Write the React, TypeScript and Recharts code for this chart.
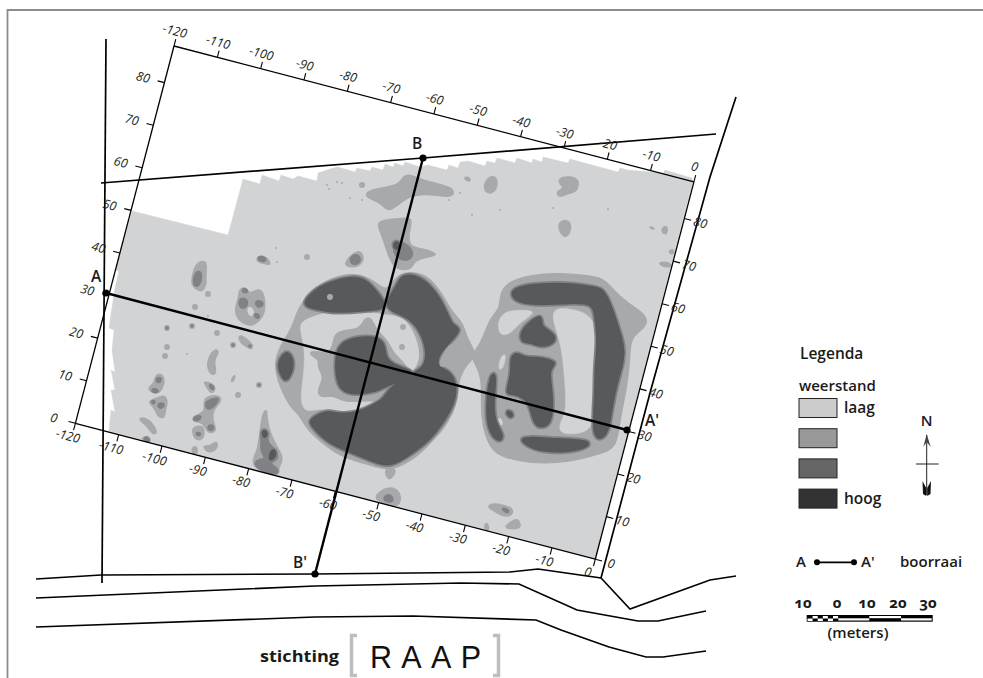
import { ScatterChart, Scatter, XAxis, YAxis } from 'recharts';

type Poly = number[][];

// survey grid (metres)
const GRID_X_TICKS = [-120, -110, -100, -90, -80, -70, -60, -50, -40, -30, -20, -10, 0];
const GRID_Y_TICKS = [0, 10, 20, 30, 40, 50, 60, 70, 80];
const GRID_Y_MAX = 88.6;

// map features, traced in map units
const SURVEY_AREA: Poly = [
  [132, 211], [228, 235], [243, 179], [260, 184], [262, 175], [279, 181], [281, 175], [293, 179], [298, 176], [317, 181],
  [318, 173], [330, 169], [338, 167], [355, 172], [357, 168], [370, 171], [372, 167], [383, 170], [385, 164], [393, 167],
  [395, 163], [403, 166], [405, 162], [420, 167], [428, 165], [447, 170], [449, 165], [458, 168], [460, 162], [468, 161],
  [485, 166], [487, 161], [495, 163], [497, 158], [515, 163], [517, 158], [532, 163], [533, 159], [542, 162], [543, 157],
  [568, 163], [570, 159], [618, 172], [620, 168], [628, 170], [663, 173], [665, 170], [692, 178], [693, 181], [595, 559],
  [109, 431], [111, 410], [115, 412], [111, 390], [115, 390], [111, 370], [115, 372], [112, 350], [114, 330], [109, 328],
  [112, 307], [115, 288], [119, 271], [115, 270],
];

const MID_PATCHES: Poly[] = [
  // ring
  [[330, 278], [353, 273], [370, 278], [382, 288], [388, 290], [398, 273], [417, 272], [430, 278], [443, 295], [452, 313], [463, 322], [467, 340], [478, 355], [467, 363], [458, 380], [458, 397], [453, 413], [443, 430], [430, 443], [417, 457], [393, 470], [380, 468], [363, 463], [343, 457], [327, 447], [307, 430], [300, 415], [290, 407], [280, 387], [273, 363], [282, 343], [293, 327], [297, 310], [310, 292]],
  [[383, 468], [398, 468], [392, 478], [388, 480]],
  // rectangle
  [[508, 282], [530, 275], [557, 273], [580, 275], [603, 277], [613, 290], [627, 303], [647, 315], [647, 327], [630, 337], [630, 357], [627, 387], [620, 417], [617, 447], [603, 453], [567, 463], [527, 463], [503, 457], [490, 450], [480, 417], [483, 380], [475, 363], [470, 355], [480, 347], [490, 317], [500, 310], [500, 293]],
  // west side
  [[197, 262], [208, 260], [205, 277], [207, 283], [202, 293], [195, 288], [191, 285], [193, 272]],
  [[240, 288], [247, 288], [249, 295], [260, 287], [265, 297], [265, 313], [260, 320], [252, 327], [240, 322], [234, 312], [238, 300], [239, 293]],
  [[258, 255], [267, 257], [272, 266], [263, 263], [256, 262]],
  [[238, 335], [245, 337], [253, 345], [252, 350], [245, 346], [240, 342]],
  [[235, 374], [235, 378], [232, 383], [231, 380]],
  [[155, 375], [162, 373], [165, 382], [162, 388], [160, 393], [152, 393], [147, 388], [155, 383]],
  [[150, 400], [160, 397], [165, 395], [168, 403], [165, 410], [165, 418], [158, 418], [155, 408], [149, 403]],
  [[138, 418], [148, 418], [155, 427], [157, 433], [153, 435], [148, 427], [142, 422]],
  [[142, 438], [148, 435], [152, 442], [142, 440]],
  [[215, 348], [220, 352], [213, 360], [217, 373], [212, 376], [207, 368], [208, 358]],
  [[203, 382], [208, 382], [215, 385], [215, 392], [210, 393], [207, 387]],
  [[203, 398], [213, 395], [222, 397], [220, 403], [213, 410], [212, 420], [217, 430], [212, 433], [207, 432], [203, 422], [193, 422], [192, 417], [202, 413], [205, 410]],
  [[192, 427], [202, 425], [205, 432], [202, 440], [196, 440], [193, 435]],
  [[202, 445], [210, 447], [217, 440], [218, 447], [213, 452], [207, 452]],
  [[192, 447], [197, 446], [198, 454], [192, 454]],
  [[263, 412], [267, 409], [267, 420], [270, 433], [277, 447], [282, 455], [282, 462], [278, 468], [280, 475], [267, 473], [253, 467], [253, 458], [258, 450], [260, 430]],
  // north side
  [[365, 192], [380, 188], [400, 185], [403, 175], [412, 175], [422, 180], [435, 183], [455, 188], [453, 198], [437, 195], [423, 194], [410, 196], [400, 203], [388, 213], [382, 203], [367, 198]],
  [[487, 178], [495, 175], [498, 183], [495, 192], [488, 194], [483, 188]],
  [[558, 178], [570, 176], [580, 180], [577, 192], [568, 193], [560, 198], [555, 192], [565, 188], [560, 185]],
  [[557, 222], [568, 219], [572, 227], [567, 238], [561, 235]],
  [[462, 177], [471, 177], [470, 183]],
  [[662, 227], [668, 226], [667, 235], [662, 233]],
  [[648, 226], [655, 228], [653, 230]],
  [[667, 252], [674, 248], [674, 255]],
  [[657, 262], [670, 262], [672, 267], [663, 267]],
  [[378, 220], [405, 218], [413, 218], [408, 235], [410, 247], [420, 248], [443, 255], [420, 258], [413, 263], [412, 270], [392, 270], [385, 243], [378, 227]],
  [[343, 263], [360, 247], [365, 260], [358, 267], [348, 267]],
  // south side
  [[373, 497], [387, 486], [400, 490], [401, 503], [395, 507], [380, 502]],
  [[487, 507], [492, 503], [503, 505], [513, 508], [513, 515], [503, 517], [493, 510]],
  [[503, 528], [512, 521], [518, 518], [522, 528], [513, 529]],
  [[483, 529], [487, 520], [490, 532]],
];

const LOW_PATCHES: Poly[] = [
  [[298, 322], [313, 317], [325, 312], [347, 313], [365, 310], [380, 315], [402, 315], [413, 330], [420, 350], [418, 367], [403, 380], [380, 400], [363, 410], [337, 412], [320, 408], [305, 413], [300, 400], [303, 380], [305, 357], [303, 340]],
  [[548, 308], [570, 308], [593, 315], [598, 340], [592, 363], [598, 393], [592, 413], [593, 433], [555, 436], [563, 417], [567, 407], [563, 360], [560, 340]],
  [[503, 313], [513, 310], [540, 310], [520, 322], [512, 333], [500, 337], [497, 323]],
  [[500, 357], [507, 352], [503, 370], [498, 370]],
  [[498, 417], [503, 420], [502, 427], [497, 423]],
  [[248, 305], [255, 310], [252, 318], [247, 313]],
];

const RING_CORE: Poly = [
  [333, 335], [342, 330], [360, 330], [365, 317], [372, 318], [377, 332], [388, 340], [392, 353], [410, 367], [407, 383], [397, 398], [383, 403], [372, 400], [353, 402], [340, 400], [333, 395], [320, 398], [317, 390], [325, 377], [317, 367], [320, 360], [310, 355], [310, 350], [333, 355],
];

const HIGH_PATCHES: Poly[] = [
  [[194, 272], [202, 270], [201, 285], [193, 288]],
  [[238, 298], [248, 298], [247, 308], [240, 309]],
  [[255, 300], [264, 302], [262, 307], [256, 307]],
  [[253, 313], [261, 315], [257, 320]],
  [[243, 288], [248, 290], [247, 293], [242, 292]],
  [[258, 256], [267, 258], [265, 262], [258, 260]],
  [[157, 377], [162, 378], [160, 383], [156, 382]],
  [[152, 388], [159, 390], [157, 393], [152, 392]],
  [[151, 400], [156, 401], [153, 405]],
  [[158, 403], [165, 403], [163, 408], [158, 408]],
  [[144, 437], [149, 438], [150, 442], [145, 441]],
  [[208, 383], [215, 387], [212, 391]],
  [[204, 402], [215, 398], [220, 398], [213, 408], [207, 410]],
  [[193, 417], [202, 415], [200, 420], [194, 421]],
  [[208, 425], [214, 425], [213, 431], [208, 430]],
  [[195, 432], [202, 433], [198, 437]],
  [[260, 435], [263, 428], [268, 432], [267, 443], [273, 447], [278, 455], [277, 460], [268, 463], [278, 468], [279, 475], [265, 472], [253, 465], [258, 459], [267, 460], [260, 450], [262, 443]],
  [[393, 245], [398, 239], [415, 250], [410, 262], [395, 258]],
  [[349, 257], [358, 253], [362, 262], [352, 266]],
  [[383, 497], [390, 493], [395, 502], [385, 502]],
  [[500, 507], [510, 510], [507, 514]],
];

const TOP_PATCHES: Poly[] = [
  [[303, 302], [317, 288], [330, 282], [353, 276], [367, 280], [377, 292], [385, 302], [382, 310], [370, 310], [348, 312], [330, 312], [320, 310], [307, 307]],
  [[402, 275], [417, 275], [430, 285], [440, 298], [448, 315], [452, 325], [460, 328], [457, 335], [445, 347], [438, 357], [437, 367], [448, 370], [457, 382], [455, 403], [443, 423], [430, 440], [410, 455], [390, 467], [377, 463], [362, 457], [340, 448], [327, 442], [308, 423], [312, 418], [327, 410], [338, 414], [357, 413], [373, 405], [383, 400], [390, 387], [408, 378], [413, 373], [425, 367], [427, 350], [420, 330], [408, 317], [393, 312], [385, 305], [392, 293], [398, 283]],
  [[337, 340], [373, 335], [385, 342], [385, 357], [393, 365], [410, 370], [413, 375], [407, 380], [387, 385], [377, 392], [350, 395], [338, 388], [335, 367]],
  [[277, 363], [287, 348], [295, 362], [290, 377], [285, 382], [280, 373]],
  [[510, 293], [517, 287], [537, 284], [567, 283], [593, 287], [602, 288], [610, 302], [617, 323], [624, 345], [624, 360], [617, 383], [612, 407], [609, 430], [602, 440], [593, 437], [594, 407], [595, 393], [595, 367], [598, 340], [595, 317], [593, 303], [570, 303], [543, 305], [517, 303]],
  [[520, 438], [532, 437], [557, 439], [590, 440], [589, 447], [570, 452], [542, 452], [525, 445]],
  [[490, 373], [497, 373], [493, 403], [495, 423], [505, 437], [498, 443], [488, 430], [486, 407]],
  [[510, 357], [517, 352], [525, 358], [537, 357], [550, 360], [557, 363], [548, 370], [553, 393], [552, 423], [543, 428], [533, 425], [530, 400], [512, 393], [505, 395], [512, 373]],
  [[520, 333], [528, 323], [543, 313], [540, 327], [553, 332], [557, 342], [542, 348], [530, 342], [522, 343]],
  [[507, 410], [513, 413], [512, 418], [507, 415]],
  [[262, 430], [267, 431], [267, 437], [263, 438]],
  [[272, 447], [277, 453], [273, 460], [268, 460]],
  [[393, 243], [398, 241], [400, 248], [395, 250]],
];

const MID_OVER_TOP: Poly = [[437, 367], [447, 347], [455, 342], [457, 353], [447, 367]];

const MID_SPOTS = [
  [307, 257], [208, 294], [195, 307], [167, 328], [192, 326], [217, 333], [233, 345], [250, 346], [167, 347],
  [165, 356], [238, 395], [259, 385], [362, 185], [403, 327], [402, 347], [330, 297],
];
const SMALL_SPOTS = [
  [277, 262], [276, 248], [342, 183], [337, 182], [327, 185], [329, 189], [350, 198], [362, 200], [460, 193], [449, 200],
  [208, 316], [187, 354], [553, 208], [608, 209], [500, 210], [472, 215],
];
const HIGH_SPOTS = [[167, 328], [259, 385], [192, 326], [233, 345], [250, 346]];

const ROADS: Poly[] = [
  [[36, 579], [101, 575], [315, 574], [510, 572], [538, 569], [601, 578], [630, 609], [710, 580], [736, 576]],
  [[36, 598], [315, 586], [461, 583], [519, 584], [577, 610], [638, 621], [658, 621], [706, 611]],
  [[36, 627], [315, 617], [413, 616], [536, 620], [561, 630], [609, 647], [646, 657], [663, 657], [706, 651]],
];
const THIN_LINES: Poly[] = [
  [[601, 578], [650, 393], [710, 177], [736, 97]],
  [[101, 183], [423, 158], [716, 134]],
  [[106, 39], [102, 583]],
];
const TRANSECT_A: Poly = [[106, 293], [627, 430]];
const TRANSECT_B: Poly = [[423, 158], [315, 574]];

const points = (poly: number[][]) => poly.map(([x, y]) => ({ x, y }));
const noDot = () => <g />;

const COLORS = { low: '#d1d3d4', mid: '#a7a9ac', high: '#808285', top: '#58595b' };
const FONT = '"Open Sans", sans-serif';

function patch(poly: Poly, key: string, fill: string, stroke = fill, strokeWidth = 1.4, joint: any = 'basisClosed') {
  return (
    <Scatter
      key={key}
      data={points(poly)}
      shape={noDot}
      lineJointType={joint}
      line={{ fill, stroke, strokeWidth, strokeLinejoin: 'round' }}
      isAnimationActive={false}
    />
  );
}

function spots(list: number[][], key: string, fill: string, r: number) {
  return (
    <Scatter
      key={key}
      data={points(list)}
      shape={(p: any) => <circle cx={p.cx} cy={p.cy} r={r} fill={fill} />}
      isAnimationActive={false}
    />
  );
}

function line(poly: Poly, key: string, strokeWidth: number) {
  return (
    <Scatter
      key={key}
      data={points(poly)}
      shape={noDot}
      line={{ stroke: '#000', strokeWidth, fill: 'none' }}
      isAnimationActive={false}
    />
  );
}

function MapLayer() {
  return (
    <ScatterChart width={983} height={678} margin={{ top: 0, right: 0, bottom: 0, left: 0 }} style={{ position: 'absolute', left: 0, top: 0 }}>
      <XAxis type="number" dataKey="x" domain={[0, 983]} hide />
      <YAxis type="number" dataKey="y" domain={[0, 678]} reversed hide />
      {patch(SURVEY_AREA, 'area', COLORS.low, COLORS.low, 0.4, 'linear')}
      {MID_PATCHES.map((p, i) => patch(p, `mid-${i}`, COLORS.mid))}
      {LOW_PATCHES.map((p, i) => patch(p, `low-${i}`, COLORS.low, COLORS.low, 0.6))}
      {patch(RING_CORE, 'core', COLORS.mid)}
      {HIGH_PATCHES.map((p, i) => patch(p, `high-${i}`, COLORS.high, COLORS.high, 2))}
      {TOP_PATCHES.map((p, i) => patch(p, `halo-${i}`, COLORS.high, COLORS.high, 5))}
      {TOP_PATCHES.map((p, i) => patch(p, `top-${i}`, COLORS.top, COLORS.top, 1.6))}
      {patch(MID_OVER_TOP, 'over', COLORS.mid)}
      {spots(MID_SPOTS, 'mid-spots', COLORS.mid, 3)}
      {spots(SMALL_SPOTS, 'small-spots', COLORS.mid, 1)}
      {spots(HIGH_SPOTS, 'high-spots', COLORS.high, 1.7)}
      {ROADS.map((p, i) => line(p, `road-${i}`, 1.6))}
      {THIN_LINES.map((p, i) => line(p, `thin-${i}`, 1.7))}
      {line(TRANSECT_A, 'a', 2.4)}
      {line(TRANSECT_B, 'b', 2.4)}
      {spots([...TRANSECT_A, ...TRANSECT_B], 'ends', '#000', 3.6)}
    </ScatterChart>
  );
}

const gridTick = (dx: number, dy: number) => (p: any) => (
  <text
    x={p.x + dx}
    y={p.y + dy}
    textAnchor="middle"
    dominantBaseline="central"
    fontFamily={FONT}
    fontStyle="italic"
    fontSize={12.5}
    fill="#231f20"
  >
    {p.payload.value}
  </text>
);

// the survey grid is drawn square and then turned to its position on the map
function GridLayer() {
  const axisLine = { stroke: '#000', strokeWidth: 1.3 };
  const tickLine = { stroke: '#000', strokeWidth: 1.1 };
  const corners = [{ x: -120, y: 0 }, { x: 0, y: GRID_Y_MAX }];
  return (
    <div style={{ position: 'absolute', left: 134, top: 5.7, transformOrigin: '40px 40px', transform: 'rotate(14.65deg)' }}>
      <ScatterChart width={617.4} height={470} margin={{ top: 0, right: 0, bottom: 0, left: 0 }} style={{ overflow: 'visible' }}>
        <XAxis xAxisId="bottom" orientation="bottom" type="number" dataKey="x" domain={[-120, 0]} ticks={GRID_X_TICKS} interval={0} height={40} tickSize={7} tickMargin={0} axisLine={axisLine} tickLine={tickLine} tick={gridTick(-4, 7)} />
        <XAxis xAxisId="top" orientation="top" type="number" dataKey="x" domain={[-120, 0]} ticks={GRID_X_TICKS} interval={0} height={40} tickSize={7} tickMargin={0} axisLine={axisLine} tickLine={tickLine} tick={gridTick(-3, -8)} />
        <YAxis yAxisId="left" orientation="left" type="number" dataKey="y" domain={[0, GRID_Y_MAX]} ticks={GRID_Y_TICKS} interval={0} width={40} tickSize={7} tickMargin={0} axisLine={axisLine} tickLine={tickLine} tick={gridTick(-15, 0)} />
        <YAxis yAxisId="right" orientation="right" type="number" dataKey="y" domain={[0, GRID_Y_MAX]} ticks={GRID_Y_TICKS} interval={0} width={40} tickSize={7} tickMargin={0} axisLine={axisLine} tickLine={tickLine} tick={gridTick(9.5, 0)} />
        <Scatter xAxisId="bottom" yAxisId="left" data={corners} shape={noDot} isAnimationActive={false} />
        <Scatter xAxisId="top" yAxisId="right" data={corners} shape={noDot} isAnimationActive={false} />
      </ScatterChart>
    </div>
  );
}

const LEGEND_SWATCHES = ['#cccccc', '#999999', '#666666', '#333333'];
const SCALE_LABELS = ['10', '0', '10', '20', '30'];
const SCALE_X = [803, 837, 867, 898, 928];
const CHECKER = [0, 1, 2, 3, 4, 5];

function Overlay() {
  const bold = { fontFamily: FONT, fontWeight: 600, fill: '#1a1a1a' };
  return (
    <svg width={983} height={678} style={{ position: 'absolute', left: 0, top: 0 }}>
      <path d="M983 10H7.5V678" fill="none" stroke="#8c8c8c" strokeWidth={1.8} />

      <text x={91} y={282} fontSize={15.5} {...bold}>A</text>
      <text x={412} y={149} fontSize={15.5} {...bold}>B</text>
      <text x={645} y={426} fontSize={15.5} {...bold}>A'</text>
      <text x={293} y={568} fontSize={15.5} {...bold}>B'</text>

      <text x={800} y={359} fontSize={15.5} {...bold}>Legenda</text>
      <text x={799} y={391} fontSize={15} {...bold}>weerstand</text>
      {LEGEND_SWATCHES.map((c, i) => (
        <rect key={c} x={799} y={398.5 + i * 30.2} width={38} height={19} fill={c} stroke="#222" strokeWidth={1} />
      ))}
      <text x={844} y={413} fontSize={15.5} {...bold}>laag</text>
      <text x={844} y={504} fontSize={15.5} {...bold}>hoog</text>

      <text x={926.7} y={426} fontSize={15} textAnchor="middle" {...bold}>N</text>
      <path d="M926.7 435V495M916 464H938.7" stroke="#222" strokeWidth={1} fill="none" />
      <path d="M923.3 447L926.7 434L930.7 447L926.7 442Z" fill="#444" />
      <path d="M922.5 481L926.2 488V496L923 494ZM931 481L927.2 488V496L930.5 494Z" fill="#111" />

      <text x={796} y={567} fontSize={15} {...bold}>A</text>
      <path d="M817 562.3H854" stroke="#000" strokeWidth={1.8} />
      <circle cx={817} cy={562.3} r={3} fill="#000" />
      <circle cx={854} cy={562.3} r={3} fill="#000" />
      <text x={861} y={567} fontSize={15} {...bold}>A'</text>
      <text x={900} y={567} fontSize={15} {...bold}>boorraai</text>

      {SCALE_LABELS.map((t, i) => (
        <text key={i} x={SCALE_X[i]} y={608} fontSize={15} textAnchor="middle" fontFamily='"Noto Sans", sans-serif' fontWeight={700} fill="#1a1a1a" style={{ fontVariantNumeric: 'oldstyle-nums' }}>{t}</text>
      ))}
      <rect x={806.7} y={615} width={126} height={6.7} fill="#000" />
      {CHECKER.map((i) => (
        <rect key={i} x={807.5 + i * 5.1} y={i % 2 ? 616 : 618.5} width={5.1} height={2.5} fill="#fff" />
      ))}
      <rect x={838.3} y={618.3} width={31} height={2.2} fill="#fff" />
      <rect x={869.3} y={616} width={31.7} height={2.2} fill="#fff" />
      <rect x={901} y={618.3} width={30.7} height={2.2} fill="#fff" />
      <text x={858} y={638} fontSize={15} textAnchor="middle" {...bold}>(meters)</text>

      <text x={260} y={662} fontSize={16} fontFamily={FONT} fontWeight={700} fill="#1a1a1a" textLength={79} lengthAdjust="spacingAndGlyphs">stichting</text>
      <path d="M357 635.5H351.5V675.5H357M493 635.5H498.5V675.5H493" fill="none" stroke="#bcbec0" strokeWidth={3.5} />
      <text x={370} y={668} fontFamily='"Liberation Sans", sans-serif' fontSize={30.5} fill="#111" textLength={111}>RAAP</text>
    </svg>
  );
}

export default function App() {
  return (
    <div style={{ position: 'absolute', left: 0, top: 0, width: 983, height: 678, background: '#fff', overflow: 'hidden' }}>
      <MapLayer />
      <GridLayer />
      <Overlay />
    </div>
  );
}
